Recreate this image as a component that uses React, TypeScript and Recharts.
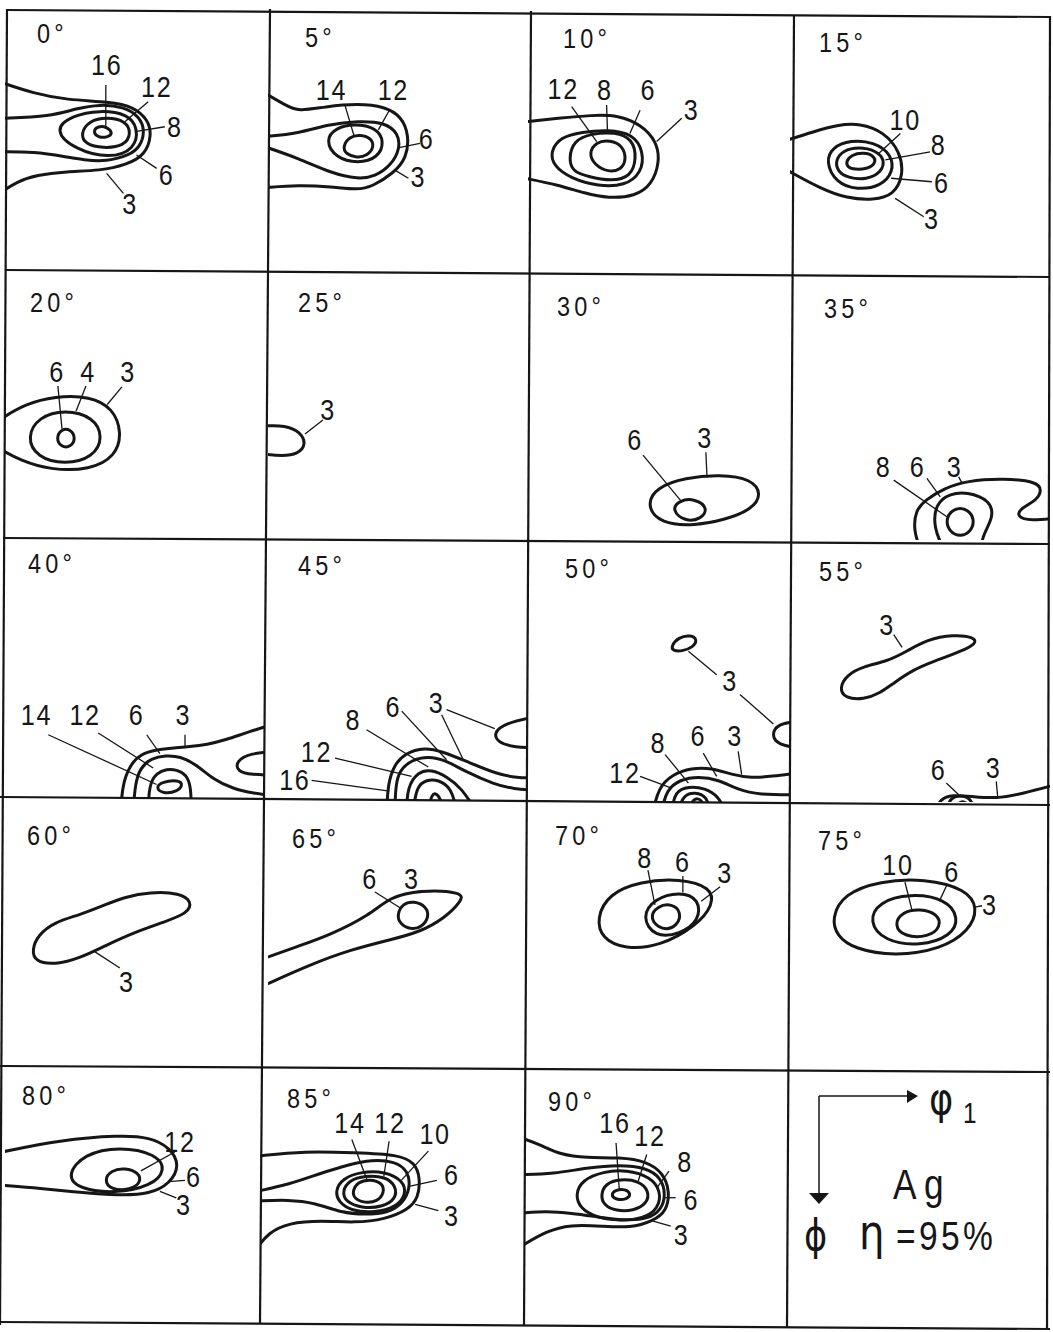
import React from "react";
import { ComposedChart, Line, Scatter, XAxis, YAxis } from "recharts";

type Pt = [number, number];
type Contour = { level: number; closed?: boolean; pts: Pt[] };
type Tag = { t: string; at: Pt };

const INK = "#161616";
const FONT = '"Liberation Sans", Arial, sans-serif';
const GREEK = '"DejaVu Sans", sans-serif';
const SQUEEZE = 0.84;

// phi2 sections, x = phi1 (0..90), y = PHI (0..90, downwards)
const sectionAngles = [0, 5, 10, 15, 20, 25, 30, 35, 40, 45, 50, 55, 60, 65, 70, 75, 80, 85, 90];

const phi0Contours: Contour[] = [
  { level: 3, pts: [[-1, 25], [9.7, 28.6], [21, 30.9], [36, 31.5], [44, 33.2], [49, 37.8], [50.2, 42.9], [48, 49.8], [41.6, 53.2], [32.5, 55.2], [21, 55.5], [10.8, 56.7], [4, 59], [-1, 62.4]] },
  { level: 6, pts: [[-1, 37.2], [15.4, 36.6], [24.5, 33.8], [32.5, 32.4], [40.5, 33.2], [46.2, 36.6], [47.9, 41.8], [46.2, 47], [42.8, 49.8], [34.8, 52.1], [26.8, 51.5], [21, 50.4], [9.7, 48.7], [-1, 48.7]] },
  { level: 8, closed: true, pts: [[16.5, 41.2], [23, 36.2], [32.5, 34.4], [42, 35.7], [45.6, 40.6], [44.4, 47.9], [35.9, 51], [24, 48]] },
  { level: 12, closed: true, pts: [[25.8, 42.4], [28.8, 38], [34.8, 36.8], [41.3, 38], [43.3, 42.4], [40.8, 46.8], [33.6, 47.5], [27.5, 46.2]] },
  { level: 16, closed: true, pts: [[30, 41.8], [31.9, 39.8], [35, 40.2], [37, 42.4], [35, 43.8], [31.9, 43.8]] },
];
const phi0Tags: Tag[] = [
  { t: "16", at: [34.8, 18.9] }, { t: "12", at: [51.9, 26.3] }, { t: "8", at: [58.1, 40.1] },
  { t: "6", at: [55.3, 56.7] }, { t: "3", at: [42.8, 66.4] },
];
const phi0Leaders: Pt[][] = [
  [[34.5, 25.8], [34.5, 40.1]], [[49, 31.5], [41, 38.4]], [[54.7, 40.1], [44.5, 41.8]],
  [[51.9, 54.4], [45, 49.8]], [[40.5, 63], [34.8, 56.1]],
];

const phi5Contours: Contour[] = [
  { level: 3, pts: [[-1, 28.6], [5.9, 32.6], [10.5, 34.9], [19.7, 33.2], [31.2, 32.1], [40.5, 33.2], [46.2, 36.6], [48.8, 42.9], [48, 50.9], [43.4, 56.1], [36, 60.7], [31.2, 61.8], [22, 60.7], [10.5, 60.1], [-1, 61]] },
  { level: 6, pts: [[-1, 43.5], [10.5, 42.4], [20.9, 39.3], [31.2, 38.1], [40.5, 38.6], [45.1, 42.4], [45.7, 47.5], [42.8, 53.2], [37, 57.3], [31.2, 58.1], [22, 56.1], [10.5, 50.9], [-1, 47]] },
  { level: 12, closed: true, pts: [[19.8, 44.7], [23.4, 40.4], [30.1, 39.1], [37.4, 40.4], [40.4, 45.2], [38, 50.9], [31.2, 52.7], [23.4, 50.9]] },
  { level: 14, closed: true, pts: [[25.8, 47], [28.2, 43.5], [31.8, 42.8], [35.9, 44], [36.7, 47.3], [34.3, 50.1], [30.7, 50.8], [27, 49.5]] },
];
const phi5Tags: Tag[] = [
  { t: "14", at: [22, 27.5] }, { t: "12", at: [43.4, 27.5] }, { t: "6", at: [54.9, 44.1] }, { t: "3", at: [52, 57.3] },
];
const phi5Leaders: Pt[][] = [
  [[26.6, 32.6], [29.8, 43.3]], [[42.2, 34.1], [38.2, 41.2]], [[52.6, 45.8], [45.4, 47.3]], [[48.6, 57.8], [43.9, 55]],
];

const phi10Contours: Contour[] = [
  { level: 3, pts: [[-1, 38.4], [10.4, 37.2], [21.9, 36.1], [31, 36.1], [39, 39.5], [44.2, 45.2], [45.3, 52.1], [42.5, 60.1], [36.8, 64], [27.6, 64.7], [19.6, 63], [10.4, 60.1], [-1, 57.8]] },
  { level: 6, closed: true, pts: [[7.6, 48.7], [11.2, 43.6], [18.4, 41.9], [27.6, 41.1], [36, 42.5], [39.8, 48.7], [39, 56], [33.3, 60.4], [24.2, 60.6], [14.6, 57.8], [8.8, 53.6]] },
  { level: 8, closed: true, pts: [[14, 50.9], [15.7, 44.8], [21.9, 42.4], [29.9, 41.9], [36, 44.3], [37.3, 50.9], [35.4, 57.2], [28.7, 58.9], [20.5, 57.2], [15.2, 55.4]] },
  { level: 12, closed: true, pts: [[20.9, 49.2], [23.3, 45.3], [28.2, 44.7], [32.6, 46.6], [33.8, 51.5], [32, 54.8], [27.6, 55.8], [22.7, 53.1]] },
];
const phi10Tags: Tag[] = [
  { t: "12", at: [12.1, 26.9] }, { t: "8", at: [26.4, 27.5] }, { t: "6", at: [41.3, 27.5] }, { t: "3", at: [56.2, 34.4] },
];
const phi10Leaders: Pt[][] = [
  [[15, 33.2], [23.6, 45.2]], [[27, 32.6], [27.3, 41.6]], [[38.5, 34.4], [35, 42.4]], [[52.8, 37.2], [44.2, 45.2]],
];

const phi15Contours: Contour[] = [
  { level: 3, pts: [[-1, 44.7], [8.2, 41.8], [16.3, 39.5], [24.3, 38.9], [32.4, 41.8], [38.2, 48.7], [39.3, 56.7], [35.9, 63.6], [29, 65.3], [19.7, 64.7], [10.5, 61.3], [-1, 55]] },
  { level: 6, closed: true, pts: [[12.3, 52.1], [14.7, 47.1], [20.9, 44.7], [29, 45.3], [35.2, 49.6], [35.8, 55.7], [31.4, 60.6], [23.2, 61.8], [16, 59.4]] },
  { level: 8, closed: true, pts: [[15.8, 51.5], [18.3, 48.3], [23.8, 47], [29.8, 48.3], [32.9, 51.5], [31.6, 55.8], [26.6, 58.3], [20, 57.7], [16.3, 55.3]] },
  { level: 10, closed: true, pts: [[19.3, 52.1], [21.3, 49.7], [25.5, 48.9], [29.3, 50.1], [29.6, 52.9], [26.6, 54.6], [22.4, 54.8], [20, 54.1]] },
];
const phi15Tags: Tag[] = [
  { t: "10", at: [39.9, 37.8] }, { t: "8", at: [51.4, 46.4] }, { t: "6", at: [52.6, 59.5] }, { t: "3", at: [49.1, 71.6] },
];
const phi15Leaders: Pt[][] = [
  [[38.2, 42.4], [30.5, 49.5]], [[48.5, 48.7], [33, 51.5]], [[49.1, 59], [35, 57.8]], [[46.3, 71], [36.4, 64.7]],
];

const phi20Contours: Contour[] = [
  { level: 3, pts: [[-1, 49.1], [6.8, 44.4], [17.1, 41.7], [29.1, 41.7], [36.9, 45.7], [40, 53.8], [38, 61.8], [29.1, 66.5], [15.4, 66.5], [5.1, 63.2], [-1, 59.8]] },
  { level: 4, closed: true, pts: [[7.4, 55.4], [11.6, 48.6], [20.5, 46.2], [30.2, 48.6], [33.7, 55.4], [30.2, 62.3], [20.5, 64.7], [10.9, 62.3]] },
  { level: 6, closed: true, pts: [[17.4, 55.8], [19.3, 52.7], [22.4, 52.7], [24.3, 55.8], [22.4, 58.9], [19.3, 58.9]] },
];
const phi20Tags: Tag[] = [{ t: "6", at: [17.8, 33.6] }, { t: "4", at: [28.4, 33.6] }, { t: "3", at: [42.1, 33.6] }];
const phi20Leaders: Pt[][] = [[[18.1, 38.3], [19.5, 52.7]], [[27.7, 38.3], [24.3, 46.8]], [[40, 38.6], [35, 44.5]]];

const phi25Contours: Contour[] = [
  { level: 3, pts: [[-1, 51.7], [5.9, 51.5], [11.1, 53.6], [13.3, 57.8], [10.4, 61.2], [4.8, 61.8], [-1, 61.2]] },
];
const phi25Tags: Tag[] = [{ t: "3", at: [20.8, 46.4] }];
const phi25Leaders: Pt[][] = [[[19, 49.7], [12.8, 54.4]]];

const phi30Contours: Contour[] = [
  { level: 3, closed: true, pts: [[40.5, 78.3], [44.3, 72.2], [53.9, 69.1], [66, 68], [76.8, 69.5], [80.4, 74.6], [76.8, 79.8], [67.7, 83.2], [57.4, 85.2], [45.6, 84.6]] },
  { level: 6, closed: true, pts: [[49.3, 80], [51.9, 76.6], [57.4, 76.1], [62, 79.3], [59.4, 83.1], [53.9, 83.8]] },
];
const phi30Tags: Tag[] = [{ t: "6", at: [36.8, 56.4] }, { t: "3", at: [60.8, 55.8] }];
const phi30Leaders: Pt[][] = [[[39.5, 61.5], [52.9, 77.3]], [[61.1, 60.5], [61.5, 69]]];

const phi35Contours: Contour[] = [
  { level: 3, pts: [[45.1, 93], [42.8, 87], [43.4, 80], [47, 76.5], [53.2, 72.7], [61.2, 70.1], [73.9, 69.3], [85.5, 70.4], [87.2, 73.2], [85.5, 76.6], [79.7, 79.4], [78.5, 82.2], [83.2, 83.6], [93, 82.5]] },
  { level: 6, pts: [[53.2, 93], [49.7, 86], [50.3, 77.7], [55.5, 74.4], [61.2, 73.8], [69.3, 76.6], [70.5, 82.2], [67, 87.8], [65.9, 93]] },
  { level: 8, closed: true, pts: [[53.9, 83.9], [55.4, 80.4], [58.9, 78.9], [62.4, 80.4], [63.9, 83.9], [62.4, 87.4], [58.9, 88.9], [55.4, 87.4]] },
];
const phi35Tags: Tag[] = [{ t: "8", at: [32.4, 65.4] }, { t: "6", at: [44.2, 65.4] }, { t: "3", at: [57, 65.4] }];
const phi35Leaders: Pt[][] = [[[35.9, 69.9], [54.3, 82.2]], [[47.4, 69.3], [52, 75.5]], [[58.4, 68.8], [59.5, 70.8]]];

const phi40Contours: Contour[] = [
  { level: 3, pts: [[39.6, 93], [40.2, 84], [42.8, 77.2], [46.5, 73.5], [51.9, 72], [58, 71.4], [63, 71], [69, 70.3], [75.8, 68.6], [83, 66], [93, 63]] },
  { level: 3, pts: [[93, 72.6], [84, 73.2], [79, 76], [79.5, 79.5], [84.3, 80.6], [93, 80.8]] },
  { level: 6, pts: [[43.9, 93], [44.5, 84], [46.2, 78.3], [50, 75], [55, 74], [59.9, 74.3], [65.6, 77.2], [71.2, 82.2], [78.1, 85.5], [84.9, 87], [93, 88]] },
  { level: 12, pts: [[49, 93], [49.3, 84], [51.9, 80], [55.3, 78.7], [58.7, 78.9], [62.1, 80.6], [63.6, 84.5], [63.8, 93]] },
  { level: 14, closed: true, pts: [[51.5, 85], [53.8, 83], [59.3, 82.4], [61, 84], [59, 86.5], [54, 87.2]] },
];
const phi40Tags: Tag[] = [{ t: "14", at: [10.8, 60] }, { t: "12", at: [27.4, 60] }, { t: "6", at: [45, 60] }, { t: "3", at: [61, 60] }];
const phi40Leaders: Pt[][] = [
  [[14.8, 66.9], [51.9, 84]], [[31.9, 66.3], [50.7, 78.3]], [[48.5, 66.9], [53, 73.4]], [[61.6, 66.9], [61.6, 71.4]],
];

const phi45Contours: Contour[] = [
  { level: 3, pts: [[41.1, 93], [41.5, 84], [43.5, 77.5], [47.4, 73.2], [54.3, 71.2], [60.1, 72.6], [68.2, 75.8], [79.7, 80.6], [86, 81.6], [93, 81.8]] },
  { level: 3, pts: [[93, 60.6], [82, 62.9], [78, 66.3], [79.7, 69.7], [85.5, 71.2], [93, 71.4]] },
  { level: 6, pts: [[43.9, 93], [44.2, 84], [45.5, 79.2], [49.7, 75.5], [55.5, 74.3], [61.2, 75.5], [68.2, 79.5], [78.5, 84], [85, 85.5], [93, 86]] },
  { level: 8, pts: [[48, 93], [48.2, 85], [52, 79.5], [56.6, 78.9], [61.8, 81.2], [67, 85.2], [72, 93]] },
  { level: 12, pts: [[50.3, 93], [51.4, 84.6], [54.9, 82.3], [58.9, 82.3], [63.6, 85.2], [65.3, 93]] },
  { level: 16, pts: [[55.5, 93], [56.6, 87], [58.9, 86.9], [61.2, 93]] },
];
const phi45Tags: Tag[] = [
  { t: "16", at: [9.3, 82.3] }, { t: "12", at: [16.8, 72.6] }, { t: "8", at: [29.5, 61.7] },
  { t: "6", at: [43.4, 57.1] }, { t: "3", at: [58.4, 56] },
];
const phi45Leaders: Pt[][] = [
  [[15.1, 82.6], [42, 86.3]], [[23.2, 74.9], [49.7, 81.2]], [[34.1, 65.2], [55.5, 78]],
  [[46.3, 58.8], [61.8, 75.5]], [[61.8, 58.3], [78.5, 64.8]], [[60.1, 60], [67.6, 75.5]],
];

const phi50Contours: Contour[] = [
  { level: 3, closed: true, pts: [[49.2, 36.5], [51.6, 33.4], [56, 32.6], [58.2, 34.2], [56.8, 36.8], [52.8, 38.3], [49.7, 38]] },
  { level: 3, pts: [[93, 62.3], [86, 63], [83.5, 66.9], [86, 70.5], [93, 71.4]] },
  { level: 3, pts: [[43, 93], [44.8, 85.2], [49.4, 80.6], [56.2, 78.3], [63.1, 78.3], [70, 80.6], [76.8, 81.8], [83.7, 81.2], [93, 80]] },
  { level: 6, pts: [[45.9, 93], [47.6, 85.8], [52.2, 82.3], [58.5, 81.2], [65.4, 82.3], [72.2, 85.8], [79.1, 87.5], [93, 87.5]] },
  { level: 8, pts: [[49.4, 93], [50.5, 86.3], [55.1, 84.6], [60.8, 85.2], [65.4, 88], [67.7, 93]] },
  { level: 12, pts: [[51.6, 93], [53.4, 87.5], [57.4, 86.6], [61.4, 88], [62.5, 93]] },
  { level: 16, pts: [[55.1, 93], [56.8, 88.6], [59.7, 88.9], [60.8, 93]] },
];
const phi50Tags: Tag[] = [
  { t: "3", at: [69.4, 48.5] }, { t: "8", at: [44.8, 69.7] }, { t: "6", at: [58.5, 67.4] },
  { t: "3", at: [71.1, 67.4] }, { t: "12", at: [33.3, 80] },
];
const phi50Leaders: Pt[][] = [
  [[64.8, 46.3], [55.1, 38.2]], [[72.8, 53.1], [84.3, 63.2]], [[47.1, 73.7], [55.1, 83.5]],
  [[60.2, 73.2], [64.8, 81.2]], [[72.2, 72.6], [73.4, 80.6]], [[38.5, 81.2], [49.4, 85.2]],
];

const phi55Contours: Contour[] = [
  { level: 3, closed: true, pts: [[17, 51], [19.7, 46.3], [25.5, 43.4], [33.6, 41.7], [40.5, 38.2], [47.4, 34.2], [56.6, 32.5], [63.6, 33.3], [64.8, 35.5], [58.9, 38.4], [49.7, 41.7], [42.8, 44.5], [35.9, 49.1], [31.2, 52.6], [25.5, 54.8], [19.1, 54.4]] },
  { level: 3, pts: [[50.3, 93], [52, 89], [56, 87.5], [63.6, 88.2], [71.6, 88.8], [79.7, 87.3], [93, 83.8]] },
  { level: 6, pts: [[54, 93], [55.5, 88.5], [59, 87.6], [62.5, 88.6], [64, 93]] },
  { level: 8, pts: [[57, 93], [58.5, 89.8], [61, 89.8], [62.5, 93]] },
];
const phi55Tags: Tag[] = [{ t: "3", at: [33.6, 29.1] }, { t: "6", at: [51.4, 78.9] }, { t: "3", at: [70.5, 78.3] }];
const phi55Leaders: Pt[][] = [[[35.9, 32.5], [38.8, 36.9]], [[54.1, 83.5], [58.4, 87.5]], [[71.4, 82.9], [71.9, 88.4]]];

const phi60Contours: Contour[] = [
  { level: 3, closed: true, pts: [[9.2, 50.6], [11.3, 45.5], [17.1, 41], [25.7, 38.6], [34.2, 35.2], [41, 32.5], [49.6, 30.8], [59.9, 31.1], [64, 34.2], [62.6, 38], [54.7, 41], [44.5, 44.5], [34.2, 49.2], [25.7, 53.4], [17.1, 55.7], [10.3, 54.7]] },
];
const phi60Tags: Tag[] = [{ t: "3", at: [41.7, 61.6] }];
const phi60Leaders: Pt[][] = [[[39.3, 56.8], [30.8, 51.3]]];

const phi65Contours: Contour[] = [
  { level: 3, pts: [[-1, 53.4], [10, 49.5], [21.5, 45.5], [35.3, 38.6], [42.2, 32.5], [52.6, 30.1], [67.5, 30.8], [67.1, 33.8], [61.2, 39.7], [52.6, 44.5], [42.2, 47.2], [28.4, 50.6], [14.5, 55.7], [-1, 62.6]] },
  { level: 6, closed: true, pts: [[44.6, 38.6], [46.7, 34.7], [50.5, 33.9], [54.8, 35.7], [55.8, 39.3], [53.2, 42.9], [49.5, 43.7], [45.7, 41.8]] },
];
const phi65Tags: Tag[] = [{ t: "6", at: [35.3, 26.2] }, { t: "3", at: [49.8, 26.2] }];
const phi65Leaders: Pt[][] = [[[37, 30.8], [45.7, 36.2]], [[51.5, 30.6], [53.5, 30.4]]];

const phi70Contours: Contour[] = [
  { level: 3, closed: true, pts: [[23.5, 39.7], [27.8, 31.4], [38.5, 27.2], [52.2, 26.2], [63, 29.2], [63.7, 35.2], [57.8, 42.4], [45.3, 49.4], [33.3, 50.4], [25.4, 46.8]] },
  { level: 6, closed: true, pts: [[39, 39.3], [43.3, 33.1], [52.2, 30.6], [58.9, 33.2], [58.9, 40.6], [52.2, 45.3], [43.4, 46.3]] },
  { level: 8, closed: true, pts: [[41.5, 39.7], [44.5, 35.5], [49.5, 34.8], [52.6, 37.5], [51.6, 42.4], [46, 44.2]] },
];
const phi70Tags: Tag[] = [{ t: "8", at: [40.2, 19.2] }, { t: "6", at: [53.2, 20.5] }, { t: "3", at: [67.7, 24.3] }];
const phi70Leaders: Pt[][] = [[[41.2, 23.3], [43.6, 35.2]], [[53.2, 25.3], [53.2, 31]], [[66, 29], [59.5, 34]]];

const phi75Contours: Contour[] = [
  { level: 3, closed: true, pts: [[14.4, 39.7], [18.6, 31.4], [31.1, 27], [46.7, 26.2], [61, 29.8], [65.2, 36.3], [62, 44.2], [52.2, 50.4], [36.3, 52.8], [22.2, 50.3], [16.2, 45.8]] },
  { level: 6, closed: true, pts: [[27.2, 41], [30.7, 34.1], [41.5, 31.3], [54, 33.1], [58.6, 39.7], [55.8, 45.9], [45, 49.4], [32.6, 47.6]] },
  { level: 10, closed: true, pts: [[35.9, 42.1], [38.8, 37.6], [45, 36.5], [51.2, 38.3], [52.3, 42.8], [47.9, 46.2], [39.6, 46.2]] },
];
const phi75Tags: Tag[] = [{ t: "10", at: [37.4, 21.5] }, { t: "6", at: [56.1, 23.9] }, { t: "3", at: [69.2, 35.2] }];
const phi75Leaders: Pt[][] = [[[39.8, 27.4], [42.2, 36.9]], [[54.3, 28.4], [51.9, 33.5]], [[66.5, 35.5], [64, 36]]];

const phi80Contours: Contour[] = [
  { level: 3, pts: [[-1, 30], [18.8, 25.9], [39.3, 24.2], [49.6, 24.9], [56.5, 28.5], [59.9, 34.5], [56.5, 40.9], [49.6, 44.5], [39.3, 45], [25.7, 44], [12, 42.5], [-1, 41.5]] },
  { level: 6, closed: true, pts: [[21, 38], [27, 30.6], [39.3, 28.1], [51.7, 30.6], [55.2, 36.2], [50, 41.8], [37.6, 44.3], [25.3, 42.8]] },
  { level: 12, closed: true, pts: [[33.8, 39.7], [36.4, 36.3], [41, 35.5], [45.8, 37.1], [46.6, 40.5], [42.8, 43.1], [36.4, 43.1]] },
];
const phi80Tags: Tag[] = [{ t: "12", at: [59.9, 26.6] }, { t: "6", at: [64.6, 38.6] }, { t: "3", at: [61.2, 48.3] }];
const phi80Leaders: Pt[][] = [[[58.1, 30], [46.5, 36.5]], [[61.6, 39.8], [56, 40.2]], [[58.6, 45.8], [53, 43.6]]];

const phi85Contours: Contour[] = [
  { level: 3, pts: [[-1, 30.9], [15.3, 29.1], [32.4, 29.7], [47.2, 30.3], [52.9, 33.3], [54.6, 38.6], [54, 45.7], [50.6, 49.8], [42.6, 53.3], [32.4, 54.5], [21, 53.7], [9.7, 54.5], [2.8, 58.1], [-1, 63.4]] },
  { level: 6, pts: [[-1, 43.3], [9.7, 41], [21, 36.8], [30.1, 33.9], [38.1, 32.1], [46, 32.7], [50.6, 36.2], [51.2, 42.1], [48.9, 47.4], [43.8, 51], [35.8, 51.6], [27.9, 51], [18.8, 47.4], [9.7, 46.3], [-1, 46.8]] },
  { level: 10, closed: true, pts: [[25.6, 43.3], [28, 38.8], [34.7, 36.3], [42.6, 36.3], [48.8, 39.5], [49.9, 44.5], [46.3, 49], [39.2, 50.9], [31, 50.3], [26.8, 47.1]] },
  { level: 12, closed: true, pts: [[28, 43.3], [30.4, 39.4], [35.8, 37.8], [42.8, 38.1], [46.4, 41.5], [46.4, 46], [41.6, 49], [34.6, 49.3], [29.2, 47.1]] },
  { level: 14, closed: true, pts: [[31.5, 43.3], [33.3, 40], [37.5, 39], [41.8, 40.3], [42.4, 43.9], [40, 47], [35.8, 47.5], [32.1, 46]] },
];
const phi85Tags: Tag[] = [
  { t: "14", at: [30.7, 19.1] }, { t: "12", at: [44.3, 19.1] }, { t: "10", at: [59.7, 23] },
  { t: "6", at: [65.4, 37.4] }, { t: "3", at: [65.4, 52.1] },
];
const phi85Leaders: Pt[][] = [
  [[31.3, 25], [36.5, 39.3]], [[44, 25.6], [42.2, 38.1]], [[57.4, 29.1], [48.3, 39.3]],
  [[60.3, 39.5], [51.2, 41.5]], [[60.8, 50.2], [52.9, 48]],
];

const phi90Contours: Contour[] = [
  { level: 3, pts: [[-1, 23.7], [5.5, 26.1], [12.3, 29.6], [21.4, 30.8], [32.8, 30.6], [42, 32], [47.6, 36.1], [49.9, 42.6], [48.8, 49.7], [44.2, 53.2], [36.3, 55.6], [27.1, 55], [15.7, 54.4], [7.8, 56.7], [-1, 62.1]] },
  { level: 6, pts: [[-1, 36.7], [10, 36.5], [21.4, 34.3], [32.8, 33.2], [42, 34.3], [47, 37.9], [48.5, 43.8], [47, 49.2], [42.5, 52.4], [35.1, 53], [27.1, 52], [15.7, 50.3], [7.8, 49.7], [-1, 50.3]] },
  { level: 8, closed: true, pts: [[17.5, 43.8], [19.9, 38.6], [27.1, 35.6], [35.1, 35], [43.3, 37.5], [46.9, 42.6], [46, 48.8], [40.8, 52.3], [32.8, 53.1], [24.7, 51.9], [19.3, 48.8]] },
  { level: 12, closed: true, pts: [[26.2, 43.8], [28, 39.8], [32.8, 38.3], [39.3, 38.8], [42.9, 42.6], [42.1, 47], [37.4, 49.6], [31.5, 49.6], [27.3, 47.6]] },
  { level: 16, closed: true, pts: [[29.6, 43.8], [31.5, 42.1], [34.6, 41.8], [36.7, 43.5], [35.3, 45.5], [31.5, 45.7]] },
];
const phi90Tags: Tag[] = [
  { t: "16", at: [31.1, 18.4] }, { t: "12", at: [43.1, 23.1] }, { t: "8", at: [55.1, 32] },
  { t: "6", at: [57.3, 45.6] }, { t: "3", at: [53.9, 57.9] },
];
const phi90Leaders: Pt[][] = [
  [[31.5, 25.5], [32.6, 42]], [[42, 29.6], [39.1, 39]], [[49.6, 35.5], [45.4, 41.5]],
  [[51.9, 44.9], [48.3, 44.9]], [[50.2, 55], [44.2, 53.2]],
];

const sections = [
  { contours: phi0Contours, tags: phi0Tags, leaders: phi0Leaders },
  { contours: phi5Contours, tags: phi5Tags, leaders: phi5Leaders },
  { contours: phi10Contours, tags: phi10Tags, leaders: phi10Leaders },
  { contours: phi15Contours, tags: phi15Tags, leaders: phi15Leaders },
  { contours: phi20Contours, tags: phi20Tags, leaders: phi20Leaders },
  { contours: phi25Contours, tags: phi25Tags, leaders: phi25Leaders },
  { contours: phi30Contours, tags: phi30Tags, leaders: phi30Leaders },
  { contours: phi35Contours, tags: phi35Tags, leaders: phi35Leaders },
  { contours: phi40Contours, tags: phi40Tags, leaders: phi40Leaders },
  { contours: phi45Contours, tags: phi45Tags, leaders: phi45Leaders },
  { contours: phi50Contours, tags: phi50Tags, leaders: phi50Leaders },
  { contours: phi55Contours, tags: phi55Tags, leaders: phi55Leaders },
  { contours: phi60Contours, tags: phi60Tags, leaders: phi60Leaders },
  { contours: phi65Contours, tags: phi65Tags, leaders: phi65Leaders },
  { contours: phi70Contours, tags: phi70Tags, leaders: phi70Leaders },
  { contours: phi75Contours, tags: phi75Tags, leaders: phi75Leaders },
  { contours: phi80Contours, tags: phi80Tags, leaders: phi80Leaders },
  { contours: phi85Contours, tags: phi85Tags, leaders: phi85Leaders },
  { contours: phi90Contours, tags: phi90Tags, leaders: phi90Leaders },
];

// layout: plot box of every section (the scan is slightly tilted, so not a perfect grid)
const panelBoxes: { x: number; y: number; w: number; h: number; cw?: number; ch?: number }[] = [
  { x: 5, y: 10, w: 263, h: 262 }, { x: 268, y: 10, w: 260, h: 262 }, { x: 528, y: 10, w: 262, h: 262 }, { x: 790, y: 10, w: 260, h: 262 },
  { x: 5, y: 272, w: 263, h: 268 }, { x: 268, y: 272, w: 260, h: 268 }, { x: 528, y: 272, w: 262, h: 268 }, { x: 790, y: 272, w: 260, h: 268 },
  { x: 5, y: 540, w: 263, h: 262, cw: 260, ch: 258 }, { x: 268, y: 540, w: 260, h: 262, ch: 260 }, { x: 528, y: 540, w: 262, h: 262 }, { x: 790, y: 540, w: 260, h: 262 },
  { x: 5, y: 802, w: 263, h: 263 }, { x: 268, y: 802, w: 260, h: 263 }, { x: 528, y: 802, w: 262, h: 263 }, { x: 790, y: 802, w: 260, h: 263 },
  { x: 5, y: 1065, w: 263, h: 261 }, { x: 260, y: 1069, w: 264, h: 254 }, { x: 524, y: 1071, w: 263, h: 254 },
];

const titlePos: Pt[] = [
  [37, 43], [305, 47], [563, 48], [819, 52],
  [30, 312], [298, 312], [557, 316], [824, 318],
  [28, 573], [298, 575], [565, 578], [819, 581],
  [27, 845], [292, 848], [555, 845], [818, 850],
  [22, 1105], [287, 1108], [548, 1111],
];

const gridLines: [number, number, number, number][] = [
  [7, 9, 0, 1325], [270, 9, 260, 1324], [531, 11, 524, 1326], [794, 15, 787, 1328], [1050, 16, 1047, 1330],
  [6, 10, 1050, 17], [5, 270, 1050, 277], [3, 538, 1050, 544], [0, 797, 1050, 805], [0, 1066, 1050, 1072], [0, 1322, 1050, 1329],
];

function toXY(pts: Pt[]) {
  return pts.map(([x, y]) => ({ x, y }));
}

// condensed lettering like the plotter font of the original
function Narrow({ x, y, size, anchor, spacing, family, children }: any) {
  return (
    <text
      transform={`translate(${x} ${y}) scale(${SQUEEZE} 1)`}
      textAnchor={anchor ?? "start"}
      dominantBaseline={anchor === "middle" ? "central" : "auto"}
      fontFamily={family ?? FONT}
      fontSize={size}
      letterSpacing={spacing ?? 0}
      fill={INK}
    >
      {children}
    </text>
  );
}

function TagShape(props: any) {
  const { cx, cy, payload } = props;
  return (
    <Narrow x={cx} y={cy} size={30} anchor="middle" spacing={2}>
      {payload.t}
    </Narrow>
  );
}

function Section({ i }: { i: number }) {
  const b = panelBoxes[i];
  const s = sections[i];
  return (
    <div style={{ position: "absolute", left: b.x, top: b.y, width: b.cw ?? b.w, height: b.ch ?? b.h, overflow: "hidden" }}>
      <ComposedChart width={b.w} height={b.h} margin={{ top: 0, right: 0, bottom: 0, left: 0 }}>
        <XAxis type="number" dataKey="x" domain={[0, 90]} allowDataOverflow hide />
        <YAxis type="number" dataKey="y" domain={[0, 90]} allowDataOverflow reversed hide />
        {s.contours.map((c, k) => (
          <Line
            key={`c${k}`}
            data={toXY(c.pts)}
            dataKey="y"
            type={c.closed ? "basisClosed" : "basis"}
            stroke={INK}
            strokeWidth={3}
            dot={false}
            activeDot={false}
            isAnimationActive={false}
          />
        ))}
        {s.leaders.map((l, k) => (
          <Line
            key={`l${k}`}
            data={toXY(l)}
            dataKey="y"
            type="linear"
            stroke={INK}
            strokeWidth={1.3}
            dot={false}
            activeDot={false}
            isAnimationActive={false}
          />
        ))}
        <Scatter
          data={s.tags.map((g) => ({ x: g.at[0], y: g.at[1], t: g.t }))}
          dataKey="y"
          shape={TagShape}
          isAnimationActive={false}
        />
      </ComposedChart>
    </div>
  );
}

export default function App() {
  return (
    <div style={{ position: "absolute", left: 0, top: 0, width: 1053, height: 1332, background: "#fff", overflow: "hidden" }}>
      {sections.map((_, i) => (
        <Section key={i} i={i} />
      ))}
      <svg width={1053} height={1332} style={{ position: "absolute", left: 0, top: 0, pointerEvents: "none" }}>
        {gridLines.map(([x1, y1, x2, y2], k) => (
          <line key={k} x1={x1} y1={y1} x2={x2} y2={y2} stroke={INK} strokeWidth={2.2} />
        ))}
        {sectionAngles.map((a, i) => (
          <Narrow key={a} x={titlePos[i][0]} y={titlePos[i][1]} size={28} spacing={5}>
            {`${a}°`}
          </Narrow>
        ))}
        {/* axis key */}
        <line x1={819} y1={1096} x2={908} y2={1096} stroke={INK} strokeWidth={1.5} />
        <polygon points="907,1090 918,1096 907,1103" fill={INK} />
        <line x1={819} y1={1096} x2={819} y2={1194} stroke={INK} strokeWidth={1.5} />
        <polygon points="809,1193 829,1193 819,1204" fill={INK} />
        <Narrow x={929} y={1114} size={44} family={GREEK}>φ</Narrow>
        <Narrow x={963} y={1123} size={29}>1</Narrow>
        <Narrow x={893} y={1199} size={42} spacing={9}>Ag</Narrow>
        <Narrow x={804} y={1250} size={42} family={GREEK}>ϕ</Narrow>
        <Narrow x={859} y={1249} size={48} family={GREEK}>η</Narrow>
        <Narrow x={896} y={1250} size={40} spacing={4}>=95%</Narrow>
      </svg>
    </div>
  );
}
